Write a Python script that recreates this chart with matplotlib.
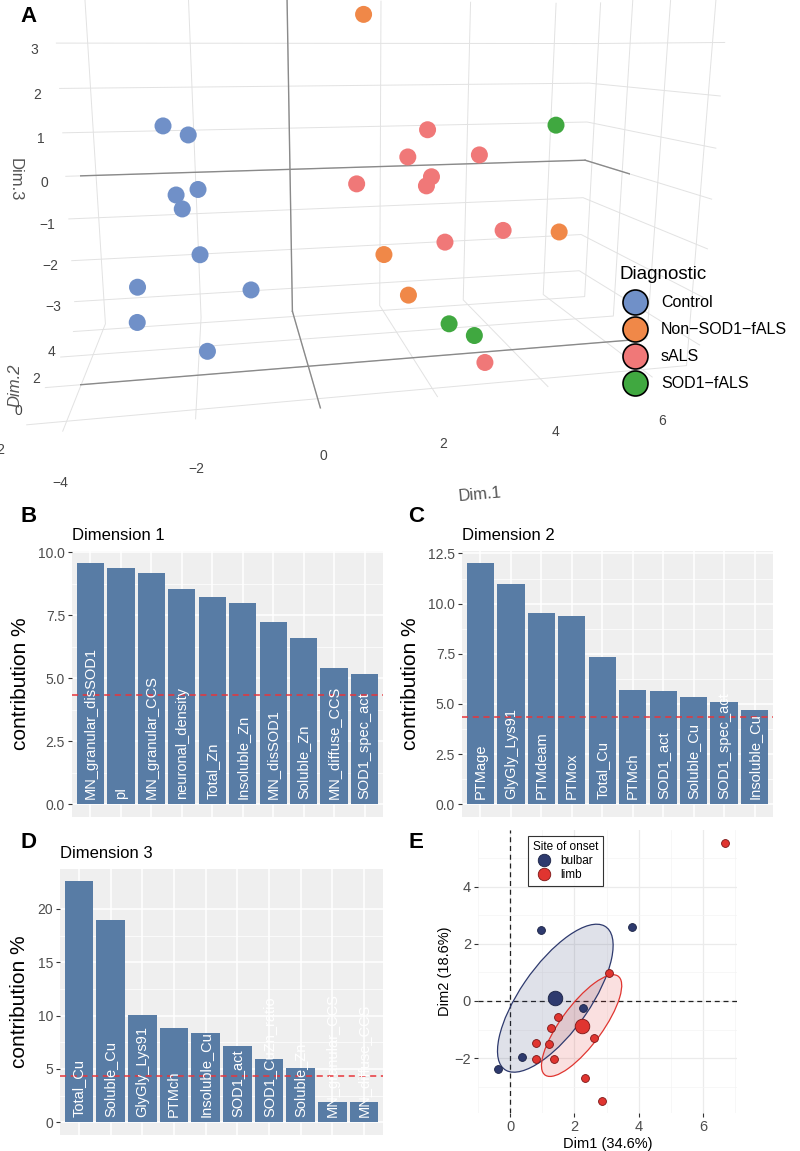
import numpy as np
import matplotlib.pyplot as plt
from matplotlib.lines import Line2D
from matplotlib.patches import Ellipse

plt.rcParams['font.family'] = ['Liberation Sans', 'DejaVu Sans']

# ---------------- panel A : PCA individuals (Dim.1, Dim.2, Dim.3)
diag_names = ['Control', 'Non\u2212SOD1\u2212fALS', 'sALS', 'SOD1\u2212fALS']
diag_cols = ['#7090C8', '#F08848', '#F07878', '#40A840']

ctrl_d1 = [-2.5, -2.05, -2.3, -1.9, -2.2, -1.9, -3.0, -3.0, -1.0, -1.8]
ctrl_d2 = [2.0, 2.0, 1.5, 1.5, 1.5, 1.0, 0.5, 0.0, 0.5, -1.0]
ctrl_d3 = [1.3, 1.1, -0.1, 0.0, -0.4, -1.3, -1.8, -2.4, -2.0, -2.8]

nonsod_d1 = [1.3, 1.5, 1.9, 5.2]
nonsod_d2 = [2.0, 0.5, 0.0, 1.0]
nonsod_d3 = [3.6, -1.4, -2.2, -1.2]

sals_d1 = [2.6, 3.7, 2.2, 2.6, 2.5, 1.1, 2.8, 4.0, 3.2]
sals_d2 = [2.0, 2.0, 2.0, 1.5, 1.5, 1.5, 1.0, 1.0, -1.0]
sals_d3 = [1.1, 0.5, 0.5, 0.1, -0.1, 0.0, -1.3, -1.1, -3.5]

sod_d1 = [5.5, 2.6, 3.1]
sod_d2 = [2.5, -0.5, -0.5]
sod_d3 = [1.1, -2.75, -3.05]

# ---------------- panels B-D : variable contributions
dim1_vars = ['MN_granular_disSOD1', 'pI', 'MN_granular_CCS', 'neuronal_density', 'Total_Zn',
             'Insoluble_Zn', 'MN_disSOD1', 'Soluble_Zn', 'MN_diffuse_CCS', 'SOD1_spec_act']
dim1_contrib = [9.58, 9.37, 9.18, 8.56, 8.23, 7.98, 7.25, 6.60, 5.40, 5.18]

dim2_vars = ['PTMage', 'GlyGly_Lys91', 'PTMdeam', 'PTMox', 'Total_Cu', 'PTMch', 'SOD1_act',
             'Soluble_Cu', 'SOD1_spec_act', 'Insoluble_Cu']
dim2_contrib = [12.02, 10.99, 9.55, 9.37, 7.35, 5.72, 5.64, 5.37, 5.09, 4.69]

dim3_vars = ['Total_Cu', 'Soluble_Cu', 'GlyGly_Lys91', 'PTMch', 'Insoluble_Cu', 'SOD1_act',
             'SOD1_CuZn_ratio', 'Soluble_Zn', 'MN_granular_CCS', 'MN_diffuse_CCS']
dim3_contrib = [22.6, 18.94, 10.07, 8.82, 8.38, 7.17, 5.93, 5.11, 1.87, 1.87]

n_vars = 23
expected = 100 / n_vars

# ---------------- panel E : ALS cases by site of onset
bulbar_d1 = [0.96, 3.78, 0.38, -0.37, 2.28]
bulbar_d2 = [2.47, 2.59, -1.96, -2.39, -0.23]
limb_d1 = [6.70, 3.07, 1.48, 1.27, 0.79, 1.20, 0.79, 1.38, 2.61, 2.32, 2.85]
limb_d2 = [5.51, 0.99, -0.56, -0.94, -1.46, -1.49, -2.04, -2.04, -1.28, -2.68, -3.50]

W, H = 800, 1151
fig = plt.figure(figsize=(W / 100, H / 100), dpi=100)


def rect(left, top, right, bottom):
    return [left / W, 1 - bottom / H, (right - left) / W, (bottom - top) / H]


# ================= A =================
plt.rcParams['grid.color'] = '#E2E2E2'
plt.rcParams['grid.linewidth'] = 0.7
axA = fig.add_axes(rect(-45, -90, 755, 460), projection='3d', focal_length=0.25)
axA.view_init(elev=10, azim=-101)
xl, yl, zl = (-4.6, 6.9), (-2.5, 4.5), (-3.6, 4.0)
axA.set_xlim(xl)
axA.set_ylim(yl)
axA.set_zlim(zl)
axA.set_box_aspect((11.5, 4.6, 6.8), zoom=1.32)
for axis in (axA.xaxis, axA.yaxis, axA.zaxis):
    axis.set_pane_color((1, 1, 1, 0))
    axis.line.set_color((1, 1, 1, 0))
axA.set_xticks([-4, -2, 0, 2, 4, 6])
axA.set_yticks([-2, 0, 2, 4])
axA.set_zticks([-3, -2, -1, 0, 1, 2, 3])
axA.tick_params(colors='#444444', labelsize=10, pad=0)
axA.xaxis.set_tick_params(pad=8)
for axis in (axA.xaxis, axA.yaxis, axA.zaxis):
    axis._axinfo['tick']['inward_factor'] = 0
    axis._axinfo['tick']['outward_factor'] = 0

# zero lines on the visible walls
zc = '#8A8A8A'
axA.plot([0, 0], [yl[1], yl[1]], zl, color=zc, lw=1)
axA.plot(xl, [yl[1], yl[1]], [0, 0], color=zc, lw=1)
axA.plot([0, 0], yl, [zl[0], zl[0]], color=zc, lw=1)
axA.plot(xl, [0, 0], [zl[0], zl[0]], color=zc, lw=1)
axA.plot([xl[1], xl[1]], yl, [0, 0], color=zc, lw=1)
axA.plot([xl[1], xl[1]], [0, 0], zl, color=zc, lw=1)

groupsA = [(ctrl_d1, ctrl_d2, ctrl_d3), (nonsod_d1, nonsod_d2, nonsod_d3),
           (sals_d1, sals_d2, sals_d3), (sod_d1, sod_d2, sod_d3)]
for (d1, d2, d3), col in zip(groupsA, diag_cols):
    sc = axA.scatter(d1, d2, d3, s=150, color=col, edgecolors='none', alpha=1, depthshade=False)
    sc.set_clip_on(False)

fig.text(15 / W, 1 - 180 / H, 'Dim.3', rotation=-90, ha='center', va='center', fontsize=12, color='#555555')
fig.text(15 / W, 1 - 385 / H, 'Dim.2', rotation=90, ha='center', va='center', fontsize=12,
         color='#555555', style='italic')
fig.text(480 / W, 1 - 495 / H, 'Dim.1', rotation=5, ha='center', va='center', fontsize=12, color='#555555')

handles = [Line2D([], [], marker='o', ls='none', markersize=18, markerfacecolor=c,
                  markeredgecolor='black', markeredgewidth=1.2) for c in diag_cols]
fig.legend(handles, diag_names, title='Diagnostic', loc='upper left',
           bbox_to_anchor=(605 / W, 1 - 252 / H), frameon=False, fontsize=11.5,
           title_fontsize=13.5, labelspacing=0.75, handletextpad=0.6, alignment='left')

# ================= B, C, D =================
bar_col = '#587CA5'


def contrib_panel(r, labels, values, title, ticks, fmt):
    ax = fig.add_axes(r)
    x = np.arange(len(values))
    ax.set_facecolor('#EFEFEF')
    ax.set_axisbelow(True)
    ax.bar(x, values, width=0.9, color=bar_col, zorder=3)
    ax.axhline(expected, color='#E8353A', ls=(0, (4, 3)), lw=1.1, zorder=4)
    for xi, lab in zip(x, labels):
        ax.annotate(lab, (xi, 0), xytext=(0, 4), textcoords='offset points', rotation=90,
                    ha='center', va='bottom', color='white', fontsize=10.5, zorder=5)
    top = max(values) * 1.05
    ax.set_ylim(-0.05 * top, top)
    ax.set_xlim(-0.6, len(values) - 0.4)
    ax.set_yticks(ticks)
    ax.set_yticklabels([fmt.format(t) for t in ticks])
    minor = [(a + b) / 2 for a, b in zip(ticks[:-1], ticks[1:])]
    ax.set_yticks(minor, minor=True)
    ax.set_xticks(x)
    ax.grid(axis='y', which='major', color='white', lw=1.1)
    ax.grid(axis='y', which='minor', color='white', lw=0.5)
    ax.grid(axis='x', which='major', color='white', lw=1.1)
    ax.tick_params(axis='x', length=0, labelbottom=False)
    ax.tick_params(axis='y', which='major', length=3, color='#333333', labelcolor='#4D4D4D',
                   labelsize=10, pad=2)
    ax.tick_params(axis='y', which='minor', length=0)
    for s in ax.spines.values():
        s.set_visible(False)
    ax.set_ylabel('contribution %', fontsize=15, color='black', labelpad=6)
    ax.set_title(title, loc='left', fontsize=12, pad=8)
    return ax


contrib_panel(rect(72, 551, 383, 817), dim1_vars, dim1_contrib, 'Dimension 1',
              [0, 2.5, 5, 7.5, 10], '{:.1f}')
contrib_panel(rect(462, 551, 773, 817), dim2_vars, dim2_contrib, 'Dimension 2',
              [0, 2.5, 5, 7.5, 10, 12.5], '{:.1f}')
contrib_panel(rect(60, 869, 383, 1135), dim3_vars, dim3_contrib, 'Dimension 3',
              [0, 5, 10, 15, 20], '{:.0f}')

# ================= E =================
axE = fig.add_axes(rect(478, 830, 737, 1113))
axE.set_axisbelow(True)
bul_col, limb_col = '#2E3A6E', '#E03530'
chi2_95 = -2 * np.log(0.05)
for d1, d2, col, edge in [(bulbar_d1, bulbar_d2, bul_col, '#1A2244'),
                          (limb_d1, limb_d2, limb_col, '#7A1515')]:
    d1, d2 = np.array(d1), np.array(d2)
    cov = np.cov(d1, d2) / len(d1)
    vals, vecs = np.linalg.eigh(cov)
    ang = np.degrees(np.arctan2(vecs[1, 1], vecs[0, 1]))
    w, h = 2 * np.sqrt(chi2_95 * vals[1]), 2 * np.sqrt(chi2_95 * vals[0])
    axE.add_patch(Ellipse((d1.mean(), d2.mean()), w, h, angle=ang, facecolor=col, alpha=0.15,
                          edgecolor='none', zorder=2))
    axE.add_patch(Ellipse((d1.mean(), d2.mean()), w, h, angle=ang, facecolor='none',
                          edgecolor=col, lw=0.9, zorder=3))
    axE.scatter(d1, d2, s=32, color=col, edgecolors=edge, linewidths=0.6, zorder=4)
    axE.scatter([d1.mean()], [d2.mean()], s=110, color=col, edgecolors=edge, linewidths=0.6, zorder=5)

axE.axhline(0, color='#222222', ls=(0, (4, 3)), lw=0.9, zorder=1)
axE.axvline(0, color='#222222', ls=(0, (4, 3)), lw=0.9, zorder=1)
axE.set_xlim(-0.76, 7.06)
axE.set_ylim(-3.92, 5.98)
axE.set_xticks([0, 2, 4, 6])
axE.set_yticks([-2, 0, 2, 4])
axE.set_xticks([-1, 1, 3, 5, 7], minor=True)
axE.set_yticks([-3, -1, 1, 3, 5], minor=True)
axE.grid(which='major', color='#EBEBEB', lw=0.9)
axE.grid(which='minor', color='#F4F4F4', lw=0.5)
for s in axE.spines.values():
    s.set_visible(False)
axE.tick_params(which='major', length=3, color='#333333', labelcolor='#4D4D4D', labelsize=10.5, pad=2)
axE.tick_params(which='minor', length=0)
axE.set_xlabel('Dim1 (34.6%)', fontsize=10.5, labelpad=2)
axE.set_ylabel('Dim2 (18.6%)', fontsize=10.5, labelpad=2)
hE = [Line2D([], [], marker='o', ls='none', markersize=9, markerfacecolor=c, markeredgecolor=e,
             markeredgewidth=0.6) for c, e in [(bul_col, '#1A2244'), (limb_col, '#7A1515')]]
legE = axE.legend(hE, ['bulbar', 'limb'], title='Site of onset', loc='upper left',
                  bbox_to_anchor=(0.17, 1.0), fontsize=8.5, title_fontsize=8.5, frameon=True,
                  fancybox=False, edgecolor='black', handletextpad=0.3, labelspacing=0.2,
                  borderpad=0.4, alignment='left')
legE.get_frame().set_linewidth(0.8)

# panel letters
for lab, x, y in [('A', 29, 17), ('B', 29, 517), ('C', 416, 517), ('D', 29, 842), ('E', 416, 842)]:
    fig.text(x / W, 1 - y / H, lab, fontsize=16, fontweight='bold', ha='center', va='center')

fig.savefig('out.png', dpi=100)
